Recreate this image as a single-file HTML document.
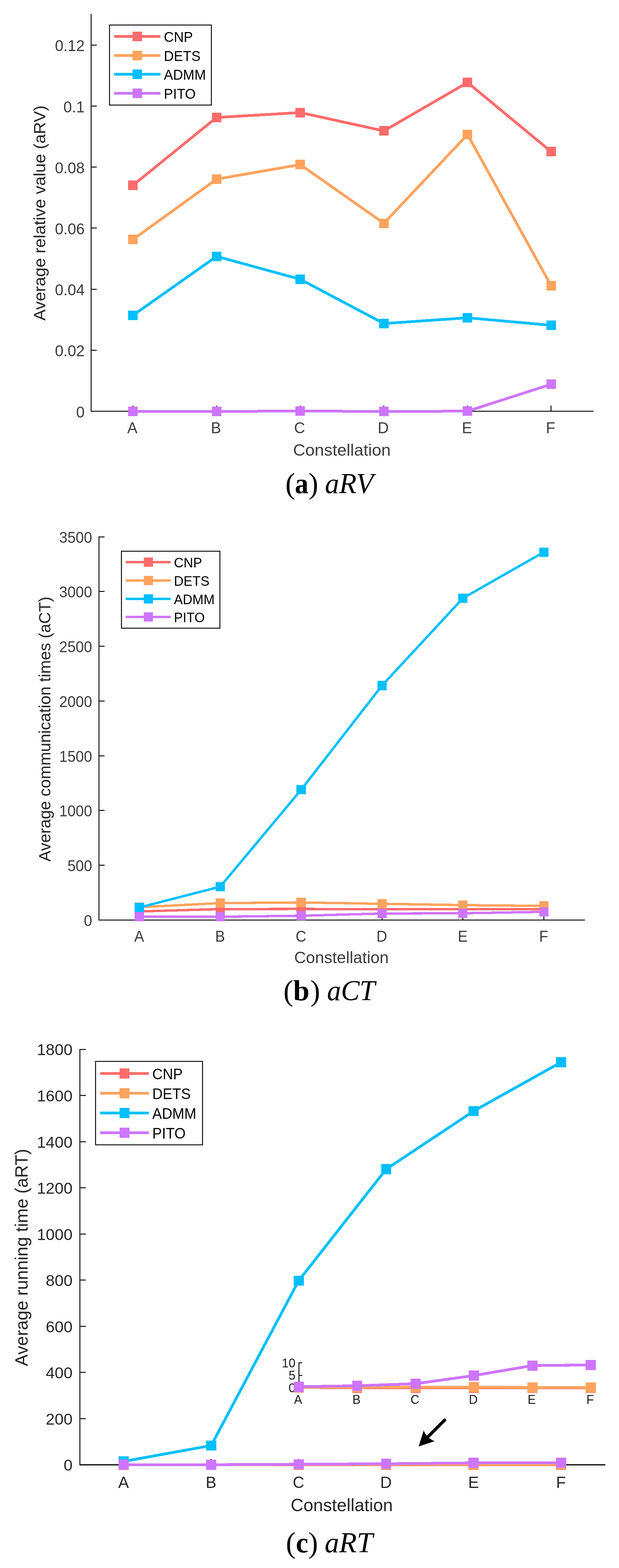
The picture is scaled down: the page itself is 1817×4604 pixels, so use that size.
<!DOCTYPE html>
<html lang="en"><head><meta charset="utf-8"><title>Figure: aRV, aCT, aRT by constellation</title>
<style>html,body{margin:0;padding:0;background:#fff}body{width:1817px;height:4604px;overflow:hidden}svg{display:block;font-family:"Liberation Sans","DejaVu Sans",sans-serif}</style>
</head><body>
<svg width="1817" height="4604" viewBox="0 0 1817 4604" shape-rendering="crispEdges">
<rect width="1817" height="4604" fill="#fff"/>
<g id="chart-a">
<path d="M267.5 41.2V1209" fill="none" stroke="#1e1e1e" stroke-width="3.0"/>
<path d="M266 1207.5H1742" fill="none" stroke="#1e1e1e" stroke-width="3.0"/>
<path d="M267.5 1028.3h16.5M267.5 849.1h16.5M267.5 669.9h16.5M267.5 490.7h16.5M267.5 311.5h16.5M267.5 132.3h16.5M390.2 1207.5v-16.5M635.75 1207.5v-16.5M881.3 1207.5v-16.5M1126.85 1207.5v-16.5M1372.4 1207.5v-16.5M1617.95 1207.5v-16.5" fill="none" stroke="#1e1e1e" stroke-width="3.0"/>
<text transform="translate(248.5 1225.5) scale(1 1.05)" font-size="44.9" fill="#3c3c3c" text-anchor="end">0</text>
<text transform="translate(248.5 1046.3) scale(1 1.05)" font-size="44.9" fill="#3c3c3c" text-anchor="end">0.02</text>
<text transform="translate(248.5 867.1) scale(1 1.05)" font-size="44.9" fill="#3c3c3c" text-anchor="end">0.04</text>
<text transform="translate(248.5 687.9) scale(1 1.05)" font-size="44.9" fill="#3c3c3c" text-anchor="end">0.06</text>
<text transform="translate(248.5 508.7) scale(1 1.05)" font-size="44.9" fill="#3c3c3c" text-anchor="end">0.08</text>
<text transform="translate(248.5 329.5) scale(1 1.05)" font-size="44.9" fill="#3c3c3c" text-anchor="end">0.1</text>
<text transform="translate(248.5 150.3) scale(1 1.05)" font-size="44.9" fill="#3c3c3c" text-anchor="end">0.12</text>
<text transform="translate(388.4 1272.4) scale(1 1.05)" font-size="44.9" fill="#3c3c3c" text-anchor="middle">A</text>
<text transform="translate(633.95 1272.4) scale(1 1.05)" font-size="44.9" fill="#3c3c3c" text-anchor="middle">B</text>
<text transform="translate(879.5 1272.4) scale(1 1.05)" font-size="44.9" fill="#3c3c3c" text-anchor="middle">C</text>
<text transform="translate(1125.05 1272.4) scale(1 1.05)" font-size="44.9" fill="#3c3c3c" text-anchor="middle">D</text>
<text transform="translate(1370.6 1272.4) scale(1 1.05)" font-size="44.9" fill="#3c3c3c" text-anchor="middle">E</text>
<text transform="translate(1616.15 1272.4) scale(1 1.05)" font-size="44.9" fill="#3c3c3c" text-anchor="middle">F</text>
<text transform="translate(1003.5 1337.8) scale(1 0.985)" font-size="49.6" fill="#3c3c3c" text-anchor="middle">Constellation</text>
<text transform="translate(132.8 625.5) rotate(-90) scale(1 0.985)" font-size="49.6" fill="#242424" text-anchor="middle">Average relative value (aRV)</text>
<polyline points="390.2,544.1 635.75,344.9 881.3,330.5 1126.85,384.4 1372.4,242.2 1617.95,445.3" fill="none" stroke="#FF6B6B" stroke-width="8" stroke-linejoin="round"/>
<path d="M376.2 530.1h28v28h-28zM621.75 330.9h28v28h-28zM867.3 316.5h28v28h-28zM1112.85 370.4h28v28h-28zM1358.4 228.2h28v28h-28zM1603.95 431.3h28v28h-28z" fill="#FF6B6B"/>
<polyline points="390.2,703.3 635.75,526.1 881.3,483.2 1126.85,655.6 1372.4,395.1 1617.95,839.1" fill="none" stroke="#FFA35E" stroke-width="8" stroke-linejoin="round"/>
<path d="M376.2 689.3h28v28h-28zM621.75 512.1h28v28h-28zM867.3 469.2h28v28h-28zM1112.85 641.6h28v28h-28zM1358.4 381.1h28v28h-28zM1603.95 825.1h28v28h-28z" fill="#FFA35E"/>
<polyline points="390.2,926 635.75,752.8 881.3,820 1126.85,950 1372.4,933.1 1617.95,955.1" fill="none" stroke="#00BFFF" stroke-width="8" stroke-linejoin="round"/>
<path d="M376.2 912h28v28h-28zM621.75 738.8h28v28h-28zM867.3 806h28v28h-28zM1112.85 936h28v28h-28zM1358.4 919.1h28v28h-28zM1603.95 941.1h28v28h-28z" fill="#00BFFF"/>
<polyline points="390.2,1207.9 635.75,1208 881.3,1207 1126.85,1208 1372.4,1207.3 1617.95,1128.2" fill="none" stroke="#CE75FF" stroke-width="8" stroke-linejoin="round"/>
<path d="M376.2 1193.9h28v28h-28zM621.75 1194h28v28h-28zM867.3 1193h28v28h-28zM1112.85 1194h28v28h-28zM1358.4 1193.3h28v28h-28zM1603.95 1114.2h28v28h-28z" fill="#CE75FF"/>
<rect x="321.4" y="73.4" width="299.1" height="235.4" fill="#fff" stroke="#1e1e1e" stroke-width="3.0"/>
<path d="M335 107H471.3" stroke="#FF6B6B" stroke-width="8"/>
<rect x="389.15" y="93" width="28" height="28" fill="#FF6B6B"/>
<text transform="translate(481 123) scale(1 1.06)" font-size="40.4" fill="#000">CNP</text>
<path d="M335 163.1H471.3" stroke="#FFA35E" stroke-width="8"/>
<rect x="389.15" y="149.1" width="28" height="28" fill="#FFA35E"/>
<text transform="translate(481 179.1) scale(1 1.06)" font-size="40.4" fill="#000">DETS</text>
<path d="M335 218.4H471.3" stroke="#00BFFF" stroke-width="8"/>
<rect x="389.15" y="204.4" width="28" height="28" fill="#00BFFF"/>
<text transform="translate(481 234.4) scale(1 1.06)" font-size="40.4" fill="#000">ADMM</text>
<path d="M335 274.2H471.3" stroke="#CE75FF" stroke-width="8"/>
<rect x="389.15" y="260.2" width="28" height="28" fill="#CE75FF"/>
<text transform="translate(481 290.2) scale(1 1.06)" font-size="40.4" fill="#000">PITO</text>
<text id="chart-a-caption" y="1447.7" font-size="84" fill="#000" font-family="'Liberation Serif','DejaVu Serif',serif"><tspan x="837.7" dy="1.2" font-size="86">(</tspan><tspan x="865.5" dy="-1.2" textLength="39.9" lengthAdjust="spacingAndGlyphs" font-weight="bold">a</tspan><tspan x="905.4" dy="1.2" font-size="86">) </tspan><tspan x="953.8" dy="-1.2" textLength="142.5" lengthAdjust="spacingAndGlyphs" font-style="italic">aRV</tspan></text>
</g>
<g id="chart-b">
<path d="M290.7 1574.7V2702.8" fill="none" stroke="#1e1e1e" stroke-width="3.0"/>
<path d="M289.2 2701.3H1717.1" fill="none" stroke="#1e1e1e" stroke-width="3.0"/>
<path d="M290.7 2540.57h16M290.7 2379.84h16M290.7 2219.11h16M290.7 2058.38h16M290.7 1897.65h16M290.7 1736.92h16M290.7 1576.19h16M409.05 2701.3v-16M646.5 2701.3v-16M883.95 2701.3v-16M1121.4 2701.3v-16M1358.85 2701.3v-16M1596.3 2701.3v-16" fill="none" stroke="#1e1e1e" stroke-width="3.0"/>
<text transform="translate(270.4 2718.72) scale(1 1.05)" font-size="43.46" fill="#3c3c3c" text-anchor="end">0</text>
<text transform="translate(270.4 2557.99) scale(1 1.05)" font-size="43.46" fill="#3c3c3c" text-anchor="end">500</text>
<text transform="translate(270.4 2397.26) scale(1 1.05)" font-size="43.46" fill="#3c3c3c" text-anchor="end">1000</text>
<text transform="translate(270.4 2236.53) scale(1 1.05)" font-size="43.46" fill="#3c3c3c" text-anchor="end">1500</text>
<text transform="translate(270.4 2075.8) scale(1 1.05)" font-size="43.46" fill="#3c3c3c" text-anchor="end">2000</text>
<text transform="translate(270.4 1915.07) scale(1 1.05)" font-size="43.46" fill="#3c3c3c" text-anchor="end">2500</text>
<text transform="translate(270.4 1754.34) scale(1 1.05)" font-size="43.46" fill="#3c3c3c" text-anchor="end">3000</text>
<text transform="translate(270.4 1593.61) scale(1 1.05)" font-size="43.46" fill="#3c3c3c" text-anchor="end">3500</text>
<text transform="translate(408.45 2764.72) scale(1 1.05)" font-size="43.46" fill="#3c3c3c" text-anchor="middle">A</text>
<text transform="translate(645.9 2764.72) scale(1 1.05)" font-size="43.46" fill="#3c3c3c" text-anchor="middle">B</text>
<text transform="translate(883.35 2764.72) scale(1 1.05)" font-size="43.46" fill="#3c3c3c" text-anchor="middle">C</text>
<text transform="translate(1120.8 2764.72) scale(1 1.05)" font-size="43.46" fill="#3c3c3c" text-anchor="middle">D</text>
<text transform="translate(1358.25 2764.72) scale(1 1.05)" font-size="43.46" fill="#3c3c3c" text-anchor="middle">E</text>
<text transform="translate(1595.7 2764.72) scale(1 1.05)" font-size="43.46" fill="#3c3c3c" text-anchor="middle">F</text>
<text transform="translate(1002.2 2828.22) scale(1 0.985)" font-size="48.01" fill="#3c3c3c" text-anchor="middle">Constellation</text>
<text transform="translate(148.2 2140.7) rotate(-90) scale(1 0.985)" font-size="48.01" fill="#242424" text-anchor="middle">Average communication times (aCT)</text>
<polyline points="409.05,2676.2 646.5,2669.3 883.95,2668.9 1121.4,2669.8 1358.85,2669.8 1596.3,2669.4" fill="none" stroke="#FF6B6B" stroke-width="7.1" stroke-linejoin="round"/>
<path d="M395.45 2662.6h27.2v27.2h-27.2zM632.9 2655.7h27.2v27.2h-27.2zM870.35 2655.3h27.2v27.2h-27.2zM1107.8 2656.2h27.2v27.2h-27.2zM1345.25 2656.2h27.2v27.2h-27.2zM1582.7 2655.8h27.2v27.2h-27.2z" fill="#FF6B6B"/>
<polyline points="409.05,2663.7 646.5,2651.8 883.95,2649.9 1121.4,2653.7 1358.85,2657.6 1596.3,2659.9" fill="none" stroke="#FFA35E" stroke-width="7.1" stroke-linejoin="round"/>
<path d="M395.45 2650.1h27.2v27.2h-27.2zM632.9 2638.2h27.2v27.2h-27.2zM870.35 2636.3h27.2v27.2h-27.2zM1107.8 2640.1h27.2v27.2h-27.2zM1345.25 2644h27.2v27.2h-27.2zM1582.7 2646.3h27.2v27.2h-27.2z" fill="#FFA35E"/>
<polyline points="409.05,2664.5 646.5,2603.5 883.95,2318.8 1121.4,2012.9 1358.85,1756.4 1596.3,1621.2" fill="none" stroke="#00BFFF" stroke-width="7.1" stroke-linejoin="round"/>
<path d="M395.45 2650.9h27.2v27.2h-27.2zM632.9 2589.9h27.2v27.2h-27.2zM870.35 2305.2h27.2v27.2h-27.2zM1107.8 1999.3h27.2v27.2h-27.2zM1345.25 1742.8h27.2v27.2h-27.2zM1582.7 1607.6h27.2v27.2h-27.2z" fill="#00BFFF"/>
<polyline points="409.05,2691.5 646.5,2691.7 883.95,2688.8 1121.4,2682.4 1358.85,2681.5 1596.3,2677.4" fill="none" stroke="#CE75FF" stroke-width="7.1" stroke-linejoin="round"/>
<path d="M395.45 2677.9h27.2v27.2h-27.2zM632.9 2678.1h27.2v27.2h-27.2zM870.35 2675.2h27.2v27.2h-27.2zM1107.8 2668.8h27.2v27.2h-27.2zM1345.25 2667.9h27.2v27.2h-27.2zM1582.7 2663.8h27.2v27.2h-27.2z" fill="#CE75FF"/>
<rect x="356.1" y="1618" width="289" height="226.5" fill="#fff" stroke="#1e1e1e" stroke-width="3.0"/>
<path d="M369.3 1650.6H501" stroke="#FF6B6B" stroke-width="7.1"/>
<rect x="421.55" y="1637" width="27.2" height="27.2" fill="#FF6B6B"/>
<text transform="translate(510.5 1666.09) scale(1 1.06)" font-size="39.11" fill="#000">CNP</text>
<path d="M369.3 1704.4H501" stroke="#FFA35E" stroke-width="7.1"/>
<rect x="421.55" y="1690.8" width="27.2" height="27.2" fill="#FFA35E"/>
<text transform="translate(510.5 1719.89) scale(1 1.06)" font-size="39.11" fill="#000">DETS</text>
<path d="M369.3 1758.1H501" stroke="#00BFFF" stroke-width="7.1"/>
<rect x="421.55" y="1744.5" width="27.2" height="27.2" fill="#00BFFF"/>
<text transform="translate(510.5 1773.59) scale(1 1.06)" font-size="39.11" fill="#000">ADMM</text>
<path d="M369.3 1811.8H501" stroke="#CE75FF" stroke-width="7.1"/>
<rect x="421.55" y="1798.2" width="27.2" height="27.2" fill="#CE75FF"/>
<text transform="translate(510.5 1827.29) scale(1 1.06)" font-size="39.11" fill="#000">PITO</text>
<text id="chart-b-caption" y="2937.2" font-size="84" fill="#000" font-family="'Liberation Serif','DejaVu Serif',serif"><tspan x="832" dy="1.2" font-size="86">(</tspan><tspan x="860.8" dy="-1.2" textLength="47.65" lengthAdjust="spacingAndGlyphs" font-weight="bold">b</tspan><tspan x="911" dy="1.2" font-size="86">) </tspan><tspan x="960.1" dy="-1.2" textLength="140.8" lengthAdjust="spacingAndGlyphs" font-style="italic">aCT</tspan></text>
</g>
<g id="chart-c">
<path d="M234.6 3079.5V4303" fill="none" stroke="#1e1e1e" stroke-width="3.0"/>
<path d="M233.1 4301H1776.9" fill="none" stroke="#1e1e1e" stroke-width="4.0"/>
<path d="M234.6 4165.45h17.5M234.6 4029.9h17.5M234.6 3894.35h17.5M234.6 3758.8h17.5M234.6 3623.25h17.5M234.6 3487.7h17.5M234.6 3352.15h17.5M234.6 3216.6h17.5M234.6 3081.05h17.5M363.1 4301v-17.5M619.9 4301v-17.5M876.7 4301v-17.5M1133.5 4301v-17.5M1390.3 4301v-17.5M1647.1 4301v-17.5" fill="none" stroke="#1e1e1e" stroke-width="3.0"/>
<text transform="translate(212.9 4318.4)" font-size="47.1" fill="#262626" text-anchor="end">0</text>
<text transform="translate(212.9 4182.85)" font-size="47.1" fill="#262626" text-anchor="end">200</text>
<text transform="translate(212.9 4047.3)" font-size="47.1" fill="#262626" text-anchor="end">400</text>
<text transform="translate(212.9 3911.75)" font-size="47.1" fill="#262626" text-anchor="end">600</text>
<text transform="translate(212.9 3776.2)" font-size="47.1" fill="#262626" text-anchor="end">800</text>
<text transform="translate(212.9 3640.65)" font-size="47.1" fill="#262626" text-anchor="end">1000</text>
<text transform="translate(212.9 3505.1)" font-size="47.1" fill="#262626" text-anchor="end">1200</text>
<text transform="translate(212.9 3369.55)" font-size="47.1" fill="#262626" text-anchor="end">1400</text>
<text transform="translate(212.9 3234)" font-size="47.1" fill="#262626" text-anchor="end">1600</text>
<text transform="translate(212.9 3098.45)" font-size="47.1" fill="#262626" text-anchor="end">1800</text>
<text transform="translate(362.7 4369.09) scale(1 1.04)" font-size="47.1" fill="#262626" text-anchor="middle">A</text>
<text transform="translate(619.5 4369.09) scale(1 1.04)" font-size="47.1" fill="#262626" text-anchor="middle">B</text>
<text transform="translate(876.3 4369.09) scale(1 1.04)" font-size="47.1" fill="#262626" text-anchor="middle">C</text>
<text transform="translate(1133.1 4369.09) scale(1 1.04)" font-size="47.1" fill="#262626" text-anchor="middle">D</text>
<text transform="translate(1389.9 4369.09) scale(1 1.04)" font-size="47.1" fill="#262626" text-anchor="middle">E</text>
<text transform="translate(1646.7 4369.09) scale(1 1.04)" font-size="47.1" fill="#262626" text-anchor="middle">F</text>
<text transform="translate(1003.2 4436.6) scale(1 0.985)" font-size="51.88" fill="#262626" text-anchor="middle">Constellation</text>
<text transform="translate(80.9 3692.2) rotate(-90) scale(1 0.985)" font-size="51.88" fill="#242424" text-anchor="middle">Average running time (aRT)</text>
<polyline points="363.1,4301 619.9,4301.2 876.7,4301 1133.5,4301 1390.3,4301 1647.1,4300.9" fill="none" stroke="#FF6B6B" stroke-width="8.1" stroke-linejoin="round"/>
<path d="M348.25 4286.15h29.7v29.7h-29.7zM605.05 4286.35h29.7v29.7h-29.7zM861.85 4286.15h29.7v29.7h-29.7zM1118.65 4286.15h29.7v29.7h-29.7zM1375.45 4286.15h29.7v29.7h-29.7zM1632.25 4286.05h29.7v29.7h-29.7z" fill="#FF6B6B"/>
<polyline points="363.1,4300.6 619.9,4300.6 876.7,4300.4 1133.5,4300.3 1390.3,4300.2 1647.1,4300.1" fill="none" stroke="#FFA35E" stroke-width="8.1" stroke-linejoin="round"/>
<path d="M348.25 4285.75h29.7v29.7h-29.7zM605.05 4285.75h29.7v29.7h-29.7zM861.85 4285.55h29.7v29.7h-29.7zM1118.65 4285.45h29.7v29.7h-29.7zM1375.45 4285.35h29.7v29.7h-29.7zM1632.25 4285.25h29.7v29.7h-29.7z" fill="#FFA35E"/>
<polyline points="363.1,4291 619.9,4244.4 876.7,3760.5 1133.5,3433 1390.3,3262.4 1647.1,3118.9" fill="none" stroke="#00BFFF" stroke-width="8.1" stroke-linejoin="round"/>
<path d="M348.25 4276.15h29.7v29.7h-29.7zM605.05 4229.55h29.7v29.7h-29.7zM861.85 3745.65h29.7v29.7h-29.7zM1118.65 3418.15h29.7v29.7h-29.7zM1375.45 3247.55h29.7v29.7h-29.7zM1632.25 3104.05h29.7v29.7h-29.7z" fill="#00BFFF"/>
<polyline points="363.1,4300.6 619.9,4300.8 876.7,4299.4 1133.5,4297.9 1390.3,4295.3 1647.1,4295.1" fill="none" stroke="#CE75FF" stroke-width="8.1" stroke-linejoin="round"/>
<path d="M348.25 4285.75h29.7v29.7h-29.7zM605.05 4285.95h29.7v29.7h-29.7zM861.85 4284.55h29.7v29.7h-29.7zM1118.65 4283.05h29.7v29.7h-29.7zM1375.45 4280.45h29.7v29.7h-29.7zM1632.25 4280.25h29.7v29.7h-29.7z" fill="#CE75FF"/>
<rect x="280" y="3116" width="314" height="245.4" fill="#fff" stroke="#1e1e1e" stroke-width="3.0"/>
<path d="M294 3151.8H437" stroke="#FF6B6B" stroke-width="8.1"/>
<rect x="350.65" y="3136.95" width="29.7" height="29.7" fill="#FF6B6B"/>
<text transform="translate(447 3168.54) scale(1 1.06)" font-size="42.26" fill="#000">CNP</text>
<path d="M294 3210H437" stroke="#FFA35E" stroke-width="8.1"/>
<rect x="350.65" y="3195.15" width="29.7" height="29.7" fill="#FFA35E"/>
<text transform="translate(447 3226.74) scale(1 1.06)" font-size="42.26" fill="#000">DETS</text>
<path d="M294 3268.2H437" stroke="#00BFFF" stroke-width="8.1"/>
<rect x="350.65" y="3253.35" width="29.7" height="29.7" fill="#00BFFF"/>
<text transform="translate(447 3284.94) scale(1 1.06)" font-size="42.26" fill="#000">ADMM</text>
<path d="M294 3326.3H437" stroke="#CE75FF" stroke-width="8.1"/>
<rect x="350.65" y="3311.45" width="29.7" height="29.7" fill="#CE75FF"/>
<text transform="translate(447 3343.04) scale(1 1.06)" font-size="42.26" fill="#000">PITO</text>
<text id="chart-c-caption" y="4557.9" font-size="84" fill="#000" font-family="'Liberation Serif','DejaVu Serif',serif"><tspan x="839.2" dy="1.2" font-size="86">(</tspan><tspan x="868.5" dy="-1.2" textLength="36.17" lengthAdjust="spacingAndGlyphs" font-weight="bold">c</tspan><tspan x="904.7" dy="1.2" font-size="86">) </tspan><tspan x="952.9" dy="-1.2" textLength="141.6" lengthAdjust="spacingAndGlyphs" font-style="italic">aRT</tspan></text>
<g id="inset">
<path d="M877.1 4000.3V4075.5" fill="none" stroke="#1e1e1e" stroke-width="3"/>
<path d="M877.1 4001.8h9.7M877.1 4038.6h9.7" fill="none" stroke="#1e1e1e" stroke-width="3"/>
<text transform="translate(867.3 4014.5) scale(1 1.02)" font-size="36" fill="#1c1c1c" text-anchor="end">10</text>
<text transform="translate(867.3 4051.3) scale(1 1.02)" font-size="36" fill="#1c1c1c" text-anchor="end">5</text>
<text transform="translate(867.3 4088.2) scale(1 1.02)" font-size="36" fill="#1c1c1c" text-anchor="end">0</text>
<text transform="translate(875 4121.6) scale(1 1.03)" font-size="36" fill="#1c1c1c" text-anchor="middle">A</text>
<text transform="translate(1046.45 4121.6) scale(1 1.03)" font-size="36" fill="#1c1c1c" text-anchor="middle">B</text>
<text transform="translate(1217.9 4121.6) scale(1 1.03)" font-size="36" fill="#1c1c1c" text-anchor="middle">C</text>
<text transform="translate(1389.35 4121.6) scale(1 1.03)" font-size="36" fill="#1c1c1c" text-anchor="middle">D</text>
<text transform="translate(1560.8 4121.6) scale(1 1.03)" font-size="36" fill="#1c1c1c" text-anchor="middle">E</text>
<text transform="translate(1732.25 4121.6) scale(1 1.03)" font-size="36" fill="#1c1c1c" text-anchor="middle">F</text>
<polyline points="877,4074.3 1048.45,4074.6 1219.9,4074.6 1391.35,4074.6 1562.8,4074.8 1734.25,4074.8" fill="none" stroke="#FF6B6B" stroke-width="8.2" stroke-linejoin="round"/>
<path d="M862.1 4059.4h29.8v29.8h-29.8zM1033.55 4059.7h29.8v29.8h-29.8zM1205 4059.7h29.8v29.8h-29.8zM1376.45 4059.7h29.8v29.8h-29.8zM1547.9 4059.9h29.8v29.8h-29.8zM1719.35 4059.9h29.8v29.8h-29.8z" fill="#FF6B6B"/>
<polyline points="877,4073.5 1048.45,4073.5 1219.9,4072.9 1391.35,4073.1 1562.8,4073.7 1734.25,4073.7" fill="none" stroke="#FFA35E" stroke-width="8.2" stroke-linejoin="round"/>
<path d="M862.1 4058.6h29.8v29.8h-29.8zM1033.55 4058.6h29.8v29.8h-29.8zM1205 4058h29.8v29.8h-29.8zM1376.45 4058.2h29.8v29.8h-29.8zM1547.9 4058.8h29.8v29.8h-29.8zM1719.35 4058.8h29.8v29.8h-29.8z" fill="#FFA35E"/>
<polyline points="877,4071.7 1048.45,4068.9 1219.9,4062.8 1391.35,4038.9 1562.8,4009.7 1734.25,4007.7" fill="none" stroke="#CE75FF" stroke-width="8.2" stroke-linejoin="round"/>
<path d="M862.1 4056.8h29.8v29.8h-29.8zM1033.55 4054h29.8v29.8h-29.8zM1205 4047.9h29.8v29.8h-29.8zM1376.45 4024h29.8v29.8h-29.8zM1547.9 3994.8h29.8v29.8h-29.8zM1719.35 3992.8h29.8v29.8h-29.8z" fill="#CE75FF"/>
</g>
<g id="arrow"><path d="M1305.3 4169.6L1256.1 4218.8" stroke="#000" stroke-width="9.4" stroke-linecap="round" fill="none"/>
<path d="M1228.7 4247.4L1243.8 4199.9Q1248 4211.5 1256.1 4218.8Q1263.5 4227 1275.9 4231.5Z" fill="#000"/></g>
</g>
</svg>
</body></html>
